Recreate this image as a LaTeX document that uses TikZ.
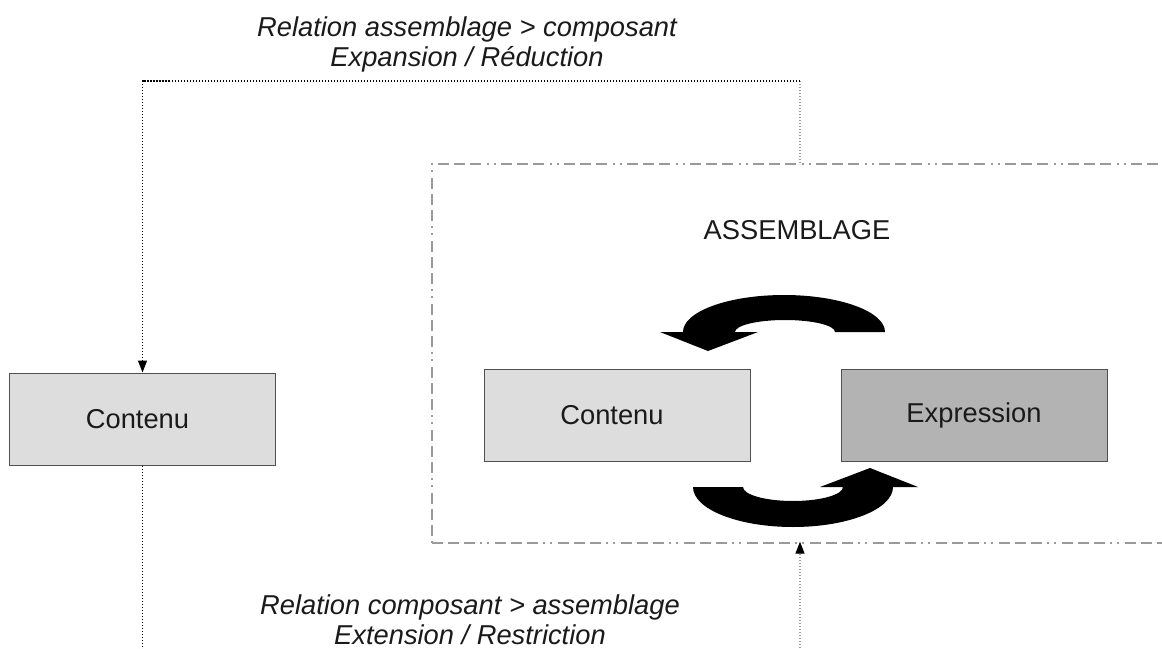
\documentclass[tikz,border=0pt]{standalone}
\usepackage{fontspec}
\setmainfont{Liberation Sans}
\usetikzlibrary{arrows.meta}
\definecolor{boxline}{HTML}{505050}
\definecolor{lightfill}{HTML}{DDDDDD}
\definecolor{darkfill}{HTML}{B3B3B3}
\definecolor{frame}{HTML}{9A9A9A}
\definecolor{txt}{HTML}{1A1A1A}
\tikzset{
  lbl/.style={font=\fontsize{27.3}{30}\selectfont, text=txt},
  itl/.style={font=\fontsize{27.3}{30}\selectfont\itshape, text=txt, align=center},
  compbox/.style={draw=boxline, line width=1pt, minimum width=266pt, minimum height=92pt, inner sep=0pt, lbl},
  dotline/.style={line width=1.3pt, dash pattern=on 1.5pt off 1.5pt},
  tipa/.style={-{Triangle[length=12pt,width=9pt,black]}},
  asmframe/.style={draw=frame, line width=1.3pt,
     dash pattern=on 11pt off 5pt on 11pt off 5pt on 11pt off 5pt on 2pt off 5pt on 2pt off 6pt},
}
\begin{document}
\begin{tikzpicture}[x=1pt,y=-1pt]
\clip (0,0) rectangle (1162,648);
\fill[white] (0,0) rectangle (1162,648);

% assemblage frame (extends beyond right edge)
\node[asmframe, minimum width=780pt, minimum height=379pt, inner sep=0pt] (asm) at (822,353.5) {};
\node[lbl] (title) at (797,230) {ASSEMBLAGE};

% boxes
\node[compbox, fill=lightfill] (lc) at (142.5,419) {\hspace*{-10pt}Contenu};
\node[compbox, fill=lightfill] (ic) at (617,415) {\hspace*{-10pt}Contenu};
\node[compbox, fill=darkfill] (ex) at (974,415) {Expression};

% connector coordinates
\coordinate (t1) at (800,81);
\coordinate (b1) at (800,660);
\coordinate (b0) at (142.5,660);

% top relation
\draw[dotline, frame] (asm.north -| t1) -- (t1);
\draw[dotline, black, tipa] (t1) -| (lc.north);
\node[itl] (toplbl) at (467,44) {Relation assemblage > composant\\Expansion / Réduction};

% bottom relation
\draw[dotline, black] (lc.south) -- (b0);
\draw[dotline, frame, tipa] (b1) -- ([yshift=2pt]asm.south -| b1);
\node[itl] (botlbl) at (470,620) {Relation composant > assemblage\\Extension / Restriction};

% curved arrows
\fill[black] (885,332) arc[start angle=0,end angle=-180,x radius=101,y radius=37]
  -- (660,332) -- (708,351) -- (758,332) -- (735,332)
  arc[start angle=-180,end angle=0,x radius=50,y radius=12] -- cycle;
\fill[black] (693,487) arc[start angle=180,end angle=0,x radius=100,y radius=40]
  -- (918,487) -- (870,468) -- (820,487) -- (843,487)
  arc[start angle=0,end angle=180,x radius=50,y radius=14] -- cycle;
\end{tikzpicture}
\end{document}
